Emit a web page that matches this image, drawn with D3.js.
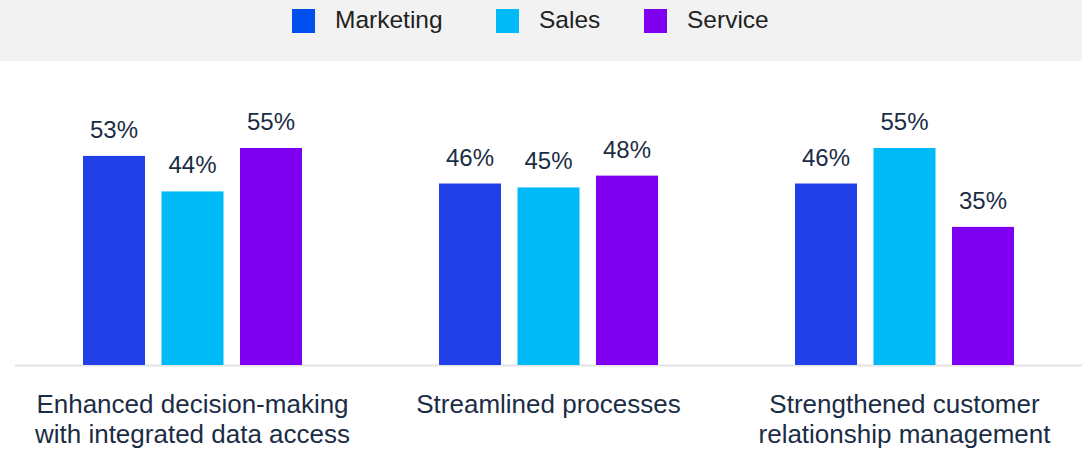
<!DOCTYPE html>
<html>
<head>
<meta charset="utf-8">
<script src="https://cdn.jsdelivr.net/npm/d3@7"></script>
<style>
  html, body { margin: 0; padding: 0; background: #ffffff; }
  svg { display: block; }
  text { font-family: "Liberation Sans", Arial, sans-serif; }
</style>
</head>
<body>
<svg id="chart" width="1082" height="450"></svg>
<script>
// Benefits of connected data, by team
const categories = [
  ["Enhanced decision-making", "with integrated data access"],
  ["Streamlined processes"],
  ["Strengthened customer", "relationship management"]
];
const seriesNames = ["Marketing", "Sales", "Service"];
const marketing = [53, 46, 46];
const sales = [44, 45, 55];
const service = [55, 48, 35];

const colors = ["#2140e8", "#00baf8", "#7f00f0"];
const legendColors = ["#0050ee", "#00baf8", "#7f00f0"];

const W = 1082, H = 450;
const baseY = 365;
const svg = d3.select("#chart");

const values = [marketing, sales, service];
const rows = categories.map((c, i) => ({
  label: c,
  bars: seriesNames.map((s, j) => ({ series: s, value: values[j][i], color: colors[j] }))
}));

// Scales
const x0 = d3.scaleBand().domain(d3.range(categories.length)).range([14.5, 1082.5]).padding(0);
const groupW = 219;
const x1 = d3.scaleBand().domain(seriesNames).range([0, groupW]).paddingInner(0.21).paddingOuter(0);
const y = d3.scaleLinear().domain([0, 55]).range([baseY, 148]);

// Legend band
svg.append("rect").attr("x", 0).attr("y", 0).attr("width", W).attr("height", 61).attr("fill", "#f2f2f2");

const legendX = [292, 496, 644];
const legend = svg.append("g").selectAll("g").data(seriesNames).join("g")
  .attr("transform", (d, i) => `translate(${legendX[i]},9)`);
legend.append("rect").attr("width", 23).attr("height", 24).attr("fill", (d, i) => legendColors[i]);
legend.append("text").attr("x", 43).attr("y", 19).attr("font-size", 24.5).attr("fill", "#222222").text(d => d);

// Baseline
svg.append("line").attr("x1", 15).attr("x2", W).attr("y1", baseY + 0.5).attr("y2", baseY + 0.5)
  .attr("stroke", "#e3e3e3").attr("stroke-width", 2);

// Bars
const groups = svg.append("g").selectAll("g").data(rows).join("g")
  .attr("transform", (d, i) => `translate(${x0(i) + (x0.bandwidth() - groupW) / 2},0)`);

groups.selectAll("rect").data(d => d.bars).join("rect")
  .attr("x", d => x1(d.series))
  .attr("width", x1.bandwidth())
  .attr("y", d => y(d.value))
  .attr("height", d => baseY - y(d.value))
  .attr("fill", d => d.color);

groups.selectAll("text.val").data(d => d.bars).join("text")
  .attr("class", "val")
  .attr("x", d => x1(d.series) + x1.bandwidth() / 2)
  .attr("y", d => y(d.value) - 18)
  .attr("text-anchor", "middle")
  .attr("font-size", 24)
  .attr("fill", "#1b2d45")
  .text(d => d.value + "%");

// Category labels
const catLabels = svg.append("g").selectAll("text").data(rows).join("text")
  .attr("x", (d, i) => x0(i) + x0.bandwidth() / 2)
  .attr("y", 413)
  .attr("text-anchor", "middle")
  .attr("font-size", 26)
  .attr("fill", "#1b2d45");
catLabels.selectAll("tspan").data(d => d.label).join("tspan")
  .attr("x", function () { return this.parentNode.getAttribute("x"); })
  .attr("dy", (d, i) => i === 0 ? 0 : 30)
  .text(d => d);
</script>
</body>
</html>
